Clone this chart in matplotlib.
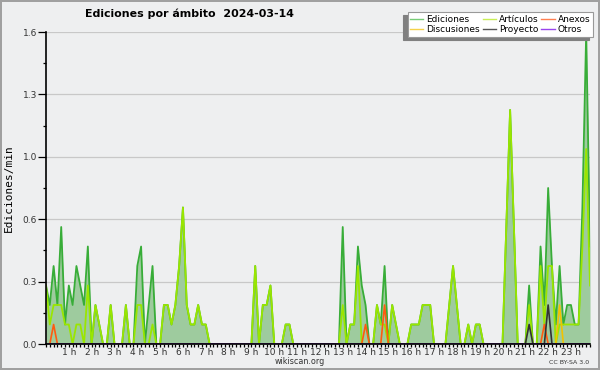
import matplotlib
matplotlib.use('Agg')
import matplotlib.pyplot as plt
from matplotlib.lines import Line2D
from matplotlib.ticker import FixedLocator, FuncFormatter

# edits per minute, one value per 10 minutes (00:00 .. 23:50)
ediciones = [
    0.3, 0.2, 0.4, 0.2, 0.6, 0.1,  0.3, 0.2, 0.4, 0.3, 0.2, 0.5,
    0.0, 0.2, 0.1, 0.0, 0.0, 0.2,  0.0, 0.0, 0.0, 0.2, 0.0, 0.0,
    0.4, 0.5, 0.0, 0.2, 0.4, 0.0,  0.0, 0.2, 0.2, 0.1, 0.2, 0.4,
    0.7, 0.2, 0.1, 0.1, 0.2, 0.1,  0.1, 0.0, 0.0, 0.0, 0.0, 0.0,
    0.0, 0.0, 0.0, 0.0, 0.0, 0.0,  0.0, 0.4, 0.0, 0.2, 0.2, 0.3,
    0.0, 0.0, 0.0, 0.1, 0.1, 0.0,  0.0, 0.0, 0.0, 0.0, 0.0, 0.0,
    0.0, 0.0, 0.0, 0.0, 0.0, 0.0,  0.6, 0.0, 0.1, 0.1, 0.5, 0.3,
    0.2, 0.0, 0.0, 0.2, 0.1, 0.4,  0.0, 0.2, 0.1, 0.0, 0.0, 0.0,
    0.1, 0.1, 0.1, 0.2, 0.2, 0.2,  0.0, 0.0, 0.0, 0.0, 0.2, 0.4,
    0.2, 0.0, 0.0, 0.1, 0.0, 0.1,  0.1, 0.0, 0.0, 0.0, 0.0, 0.0,
    0.0, 0.6, 1.2, 0.6, 0.0, 0.0,  0.0, 0.3, 0.0, 0.0, 0.5, 0.2,
    0.8, 0.4, 0.1, 0.4, 0.1, 0.2,  0.2, 0.1, 0.1, 0.7, 1.6, 0.5,
]
articulos = [
    0.3, 0.1, 0.2, 0.2, 0.2, 0.1,  0.1, 0.0, 0.1, 0.1, 0.0, 0.3,
    0.0, 0.2, 0.1, 0.0, 0.0, 0.2,  0.0, 0.0, 0.0, 0.2, 0.0, 0.0,
    0.2, 0.2, 0.0, 0.0, 0.1, 0.0,  0.0, 0.2, 0.2, 0.1, 0.2, 0.4,
    0.7, 0.2, 0.1, 0.1, 0.2, 0.1,  0.1, 0.0, 0.0, 0.0, 0.0, 0.0,
    0.0, 0.0, 0.0, 0.0, 0.0, 0.0,  0.0, 0.4, 0.0, 0.2, 0.2, 0.3,
    0.0, 0.0, 0.0, 0.1, 0.1, 0.0,  0.0, 0.0, 0.0, 0.0, 0.0, 0.0,
    0.0, 0.0, 0.0, 0.0, 0.0, 0.0,  0.2, 0.0, 0.1, 0.1, 0.4, 0.0,
    0.0, 0.0, 0.0, 0.2, 0.1, 0.1,  0.0, 0.2, 0.1, 0.0, 0.0, 0.0,
    0.1, 0.1, 0.1, 0.2, 0.2, 0.2,  0.0, 0.0, 0.0, 0.0, 0.2, 0.4,
    0.2, 0.0, 0.0, 0.1, 0.0, 0.1,  0.1, 0.0, 0.0, 0.0, 0.0, 0.0,
    0.0, 0.6, 1.2, 0.6, 0.0, 0.0,  0.0, 0.2, 0.0, 0.0, 0.4, 0.1,
    0.4, 0.4, 0.0, 0.1, 0.1, 0.1,  0.1, 0.1, 0.1, 0.5, 1.0, 0.3,
]
anexos = [
    0.0, 0.0, 0.1, 0.0, 0.0, 0.0,  0.0, 0.0, 0.0, 0.0, 0.0, 0.0,
    0.0, 0.0, 0.0, 0.0, 0.0, 0.0,  0.0, 0.0, 0.0, 0.0, 0.0, 0.0,
    0.0, 0.0, 0.0, 0.0, 0.0, 0.0,  0.0, 0.0, 0.0, 0.0, 0.0, 0.0,
    0.0, 0.0, 0.0, 0.0, 0.0, 0.0,  0.0, 0.0, 0.0, 0.0, 0.0, 0.0,
    0.0, 0.0, 0.0, 0.0, 0.0, 0.0,  0.0, 0.0, 0.0, 0.0, 0.0, 0.0,
    0.0, 0.0, 0.0, 0.0, 0.0, 0.0,  0.0, 0.0, 0.0, 0.0, 0.0, 0.0,
    0.0, 0.0, 0.0, 0.0, 0.0, 0.0,  0.0, 0.0, 0.0, 0.0, 0.0, 0.0,
    0.1, 0.0, 0.0, 0.0, 0.0, 0.2,  0.0, 0.0, 0.0, 0.0, 0.0, 0.0,
    0.0, 0.0, 0.0, 0.0, 0.0, 0.0,  0.0, 0.0, 0.0, 0.0, 0.0, 0.0,
    0.0, 0.0, 0.0, 0.0, 0.0, 0.0,  0.0, 0.0, 0.0, 0.0, 0.0, 0.0,
    0.0, 0.0, 0.0, 0.0, 0.0, 0.0,  0.0, 0.0, 0.0, 0.0, 0.0, 0.1,
    0.0, 0.0, 0.0, 0.0, 0.0, 0.0,  0.0, 0.0, 0.0, 0.0, 0.0, 0.0,
]
discusiones = [
    0.0, 0.0, 0.0, 0.0, 0.0, 0.0,  0.0, 0.0, 0.0, 0.0, 0.0, 0.0,
    0.0, 0.0, 0.0, 0.0, 0.0, 0.0,  0.0, 0.0, 0.0, 0.0, 0.0, 0.0,
    0.0, 0.0, 0.0, 0.0, 0.0, 0.0,  0.0, 0.0, 0.0, 0.0, 0.0, 0.0,
    0.0, 0.0, 0.0, 0.0, 0.0, 0.0,  0.0, 0.0, 0.0, 0.0, 0.0, 0.0,
    0.0, 0.0, 0.0, 0.0, 0.0, 0.0,  0.0, 0.0, 0.0, 0.0, 0.0, 0.0,
    0.0, 0.0, 0.0, 0.0, 0.0, 0.0,  0.0, 0.0, 0.0, 0.0, 0.0, 0.0,
    0.0, 0.0, 0.0, 0.0, 0.0, 0.0,  0.0, 0.0, 0.0, 0.0, 0.0, 0.0,
    0.0, 0.0, 0.0, 0.0, 0.0, 0.0,  0.0, 0.0, 0.0, 0.0, 0.0, 0.0,
    0.0, 0.0, 0.0, 0.0, 0.0, 0.0,  0.0, 0.0, 0.0, 0.0, 0.0, 0.0,
    0.0, 0.0, 0.0, 0.0, 0.0, 0.0,  0.0, 0.0, 0.0, 0.0, 0.0, 0.0,
    0.0, 0.0, 0.0, 0.0, 0.0, 0.0,  0.0, 0.0, 0.0, 0.0, 0.0, 0.0,
    0.0, 0.0, 0.0, 0.2, 0.0, 0.0,  0.0, 0.0, 0.0, 0.0, 0.0, 0.0,
]
proyecto = [
    0.0, 0.0, 0.0, 0.0, 0.0, 0.0,  0.0, 0.0, 0.0, 0.0, 0.0, 0.0,
    0.0, 0.0, 0.0, 0.0, 0.0, 0.0,  0.0, 0.0, 0.0, 0.0, 0.0, 0.0,
    0.0, 0.0, 0.0, 0.0, 0.0, 0.0,  0.0, 0.0, 0.0, 0.0, 0.0, 0.0,
    0.0, 0.0, 0.0, 0.0, 0.0, 0.0,  0.0, 0.0, 0.0, 0.0, 0.0, 0.0,
    0.0, 0.0, 0.0, 0.0, 0.0, 0.0,  0.0, 0.0, 0.0, 0.0, 0.0, 0.0,
    0.0, 0.0, 0.0, 0.0, 0.0, 0.0,  0.0, 0.0, 0.0, 0.0, 0.0, 0.0,
    0.0, 0.0, 0.0, 0.0, 0.0, 0.0,  0.0, 0.0, 0.0, 0.0, 0.0, 0.0,
    0.0, 0.0, 0.0, 0.0, 0.0, 0.0,  0.0, 0.0, 0.0, 0.0, 0.0, 0.0,
    0.0, 0.0, 0.0, 0.0, 0.0, 0.0,  0.0, 0.0, 0.0, 0.0, 0.0, 0.0,
    0.0, 0.0, 0.0, 0.0, 0.0, 0.0,  0.0, 0.0, 0.0, 0.0, 0.0, 0.0,
    0.0, 0.0, 0.0, 0.0, 0.0, 0.0,  0.0, 0.1, 0.0, 0.0, 0.0, 0.0,
    0.2, 0.0, 0.0, 0.0, 0.0, 0.0,  0.0, 0.0, 0.0, 0.0, 0.0, 0.0,
]
otros = [0.0] * 144

hour_labels = [f'{h} h' for h in range(1, 24)]
y_ticks = [0, 0.32, 0.64, 0.96, 1.28, 1.6]

BG = '#eeeff0'

# time axis in hours, one step per 10 minutes
t = [i / 6 for i in range(len(ediciones))]

fig = plt.figure(figsize=(6, 3.7), dpi=100, facecolor=BG,
                 edgecolor='#a0a0a0', linewidth=1.5)
ax = fig.add_axes([46 / 600, 26 / 370, 544 / 600, 312 / 370], facecolor=BG)

ax.fill_between(t, 0, ediciones, color='#9ecb9e', lw=0, zorder=1)
ax.plot(t, ediciones, color='#38ad38', lw=1.3, zorder=3)
ax.plot(t, articulos, color='#9ae600', lw=1.3, zorder=4)
ax.plot(t, discusiones, color='#f2c200', lw=1.2, zorder=5)
ax.plot(t, anexos, color='#ff5a10', lw=1.2, zorder=5)
ax.plot(t, proyecto, color='#333333', lw=1.2, zorder=6)
ax.plot(t, otros, color='#9933ee', lw=1.2, zorder=6)

ax.set_xlim(0, t[-1])
ax.set_ylim(0, 1.6)

ax.yaxis.set_major_locator(FixedLocator(y_ticks))
ax.yaxis.set_minor_locator(FixedLocator([0.16, 0.48, 0.8, 1.12, 1.44]))
ax.yaxis.set_major_formatter(FuncFormatter(lambda v, p: f'{v:.1f}'))
ax.xaxis.set_major_locator(FixedLocator(range(1, 24)))
ax.xaxis.set_minor_locator(FixedLocator(t))
ax.set_xticklabels(hour_labels)

ax.tick_params(axis='y', which='major', length=6, width=0.9, pad=0.5,
               labelsize=6.5, labelcolor='#333333')
ax.tick_params(axis='y', which='minor', length=2.5, width=0.9)
ax.tick_params(axis='x', which='both', length=2.5, width=0.9, pad=0.5,
               labelsize=6.5, labelcolor='#333333')

ax.grid(axis='y', color='#c8c8c8', lw=0.9, zorder=0)
ax.set_axisbelow(True)
for s in ['top', 'right']:
    ax.spines[s].set_visible(False)
for s in ['left', 'bottom']:
    ax.spines[s].set_linewidth(1.2)
    ax.spines[s].set_zorder(10)

fig.text(9 / 600, 0.492, 'Ediciones/min', rotation=90, ha='center', va='center',
         fontsize=8, family='DejaVu Sans Mono')
fig.text(85 / 600, 1 - 14 / 370, 'Ediciones por ámbito  2024-03-14',
         ha='left', va='center', fontsize=7.9, fontweight='bold')
fig.text(300 / 600, 1 - 361 / 370, 'wikiscan.org', ha='center', va='center',
         fontsize=5.8, color='#333333')
fig.text(589 / 600, 1 - 362 / 370, 'CC BY-SA 3.0', ha='right', va='center',
         fontsize=4.5, color='#333333')

handles = [
    Line2D([], [], color='#77cc77', lw=1),
    Line2D([], [], color='#f5d24a', lw=1),
    Line2D([], [], color='#c8ee55', lw=1),
    Line2D([], [], color='#555555', lw=1),
    Line2D([], [], color='#ff7f50', lw=1),
    Line2D([], [], color='#9944ee', lw=1),
]
labels = ['Ediciones', 'Discusiones', 'Artículos', 'Proyecto', 'Anexos', 'Otros']
leg = fig.legend(handles, labels, ncol=3, loc='upper right',
                 bbox_to_anchor=(593 / 600, 1 - 12 / 370), fontsize=6.5,
                 frameon=True, fancybox=False, framealpha=1,
                 facecolor='white', edgecolor='#999999',
                 shadow={'ox': -3, 'oy': -2.5, 'facecolor': '#808080',
                         'edgecolor': '#808080', 'alpha': 1},
                 handlelength=1.45, handletextpad=0.35, columnspacing=0.3,
                 labelspacing=0.12, borderpad=0.3, borderaxespad=0)
leg.get_frame().set_linewidth(0.8)

fig.savefig('out.png', dpi=100, facecolor=BG, edgecolor='#a0a0a0')
